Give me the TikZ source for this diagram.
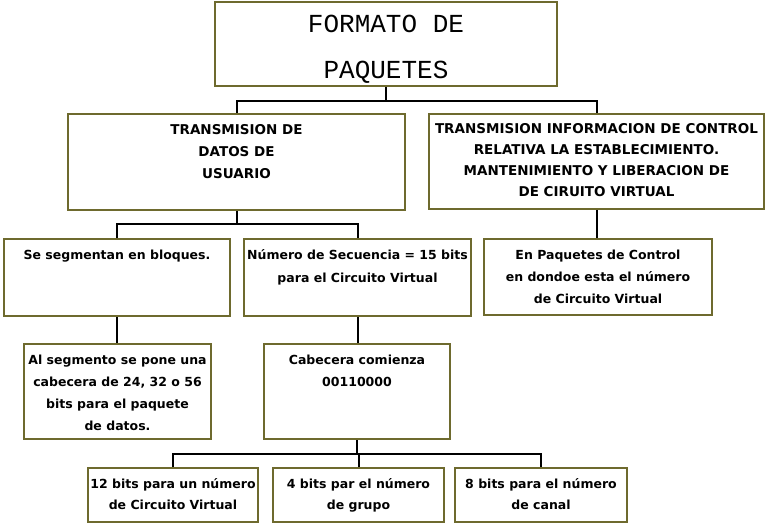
\documentclass[tikz,border=0pt]{standalone}
\usepackage{fontspec}
\setmainfont{DejaVu Sans}
\newfontfamily\monofnt{Liberation Mono}
\definecolor{boxol}{RGB}{110,106,46}
\tikzset{
  boxnode/.style={draw=boxol, line width=2pt, inner sep=0pt, anchor=north west, fill=white},
  conn/.style={draw=black, line width=2pt, line join=miter},
}
\newcommand\boxtxt[5]{\parbox[c][#2][t]{#1}{\centering\bfseries\fontsize{#4}{#3}\selectfont\rule{0pt}{20pt}#5}}
\begin{document}
\begin{tikzpicture}[x=1pt,y=-1pt]
\fill[white] (0,0) rectangle (777,524);
\useasboundingbox (0,0) rectangle (777,524);
% boxes
\node[boxnode] (root) at (214,1) {\parbox[c][84pt][t]{342pt}{\centering\monofnt\fontsize{26}{46}\selectfont\rule{0pt}{31pt}FORMATO DE~\\PAQUETES}};
\node[boxnode] (td) at (67,113) {\boxtxt{337pt}{96pt}{22pt}{13.5}{TRANSMISION DE\\DATOS DE\\USUARIO}};
\node[boxnode] (tc) at (428,113) {\boxtxt{335pt}{95pt}{21pt}{13.5}{TRANSMISION INFORMACION DE CONTROL\\RELATIVA LA ESTABLECIMIENTO.\\MANTENIMIENTO Y LIBERACION DE\\DE CIRUITO VIRTUAL}};
\node[boxnode] (se) at (3,238) {\boxtxt{226pt}{77pt}{22pt}{12.5}{Se segmentan en bloques.}};
\node[boxnode] (num) at (243,238) {\boxtxt{227pt}{77pt}{23pt}{12.5}{Número de Secuencia = 15 bits\\para el Circuito Virtual}};
\node[boxnode] (en) at (483,238) {\boxtxt{228pt}{76pt}{22.5pt}{12.5}{En Paquetes de Control\\en dondoe esta el número\\de Circuito Virtual}};
\node[boxnode] (al) at (23,343) {\boxtxt{187pt}{95pt}{22pt}{12.5}{Al segmento se pone una\\cabecera de 24, 32 o 56\\bits para el paquete\\de datos.}};
\node[boxnode] (cab) at (263,343) {\boxtxt{186pt}{95pt}{22pt}{12.5}{Cabecera comienza\\00110000}};
\node[boxnode] (ba) at (87,467) {\boxtxt{170pt}{54pt}{21pt}{12.5}{12 bits para un número\\de Circuito Virtual}};
\node[boxnode] (bb) at (272,467) {\boxtxt{171pt}{54pt}{21pt}{12.5}{4 bits par el número\\de grupo}};
\node[boxnode] (bc) at (454,467) {\boxtxt{172pt}{54pt}{21pt}{12.5}{8 bits para el número\\de canal}};
% junction levels
\coordinate (l1) at (0,101);
\coordinate (l2) at (0,224);
\coordinate (l3) at (0,454);
% connectors
\draw[conn] (root.south) -- (root.south |- l1);
\draw[conn] (td.north) -- (td.north |- l1) -- (tc.north |- l1) -- (tc.north);
\draw[conn] (td.south) -- (td.south |- l2);
\draw[conn] (se.north) -- (se.north |- l2) -- (num.north |- l2) -- (num.north);
\draw[conn] (tc.south) -- (tc.south |- en.north);
\draw[conn] (se.south) -- (se.south |- al.north);
\draw[conn] (num.south) -- (num.south |- cab.north);
\draw[conn] (cab.south) -- (cab.south |- l3);
\draw[conn] (ba.north) -- (ba.north |- l3) -- (bc.north |- l3) -- (bc.north);
\draw[conn] (bb.north) -- (bb.north |- l3);
\end{tikzpicture}
\end{document}
